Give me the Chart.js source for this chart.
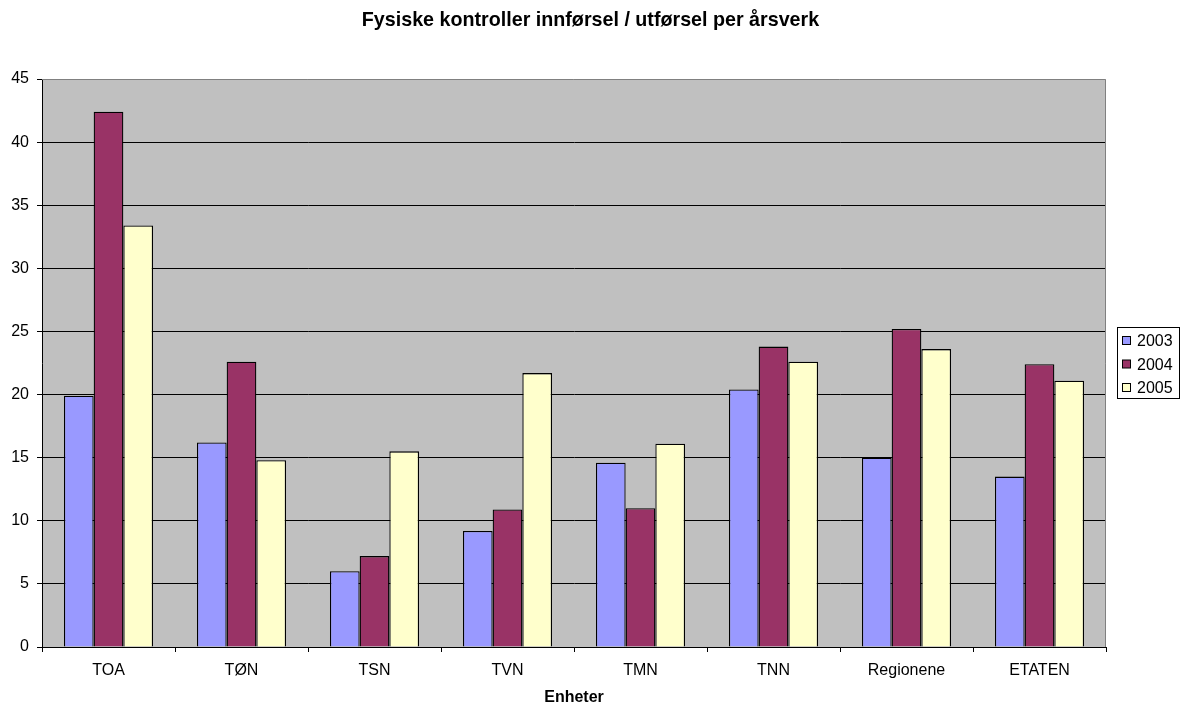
<!DOCTYPE html>
<html>
<head>
<meta charset="utf-8">
<script src="https://cdn.jsdelivr.net/npm/chart.js@4"></script>
<style>
  html, body { margin: 0; padding: 0; background: #fff; }
  #wrap { width: 1181px; height: 706px; }
</style>
</head>
<body>
<div id="wrap"><canvas id="chart" width="1181" height="706"></canvas></div>
<script>
const FONT = "'Liberation Sans', Arial, sans-serif";

const units = ["TOA", "TØN", "TSN", "TVN", "TMN", "TNN", "Regionene", "ETATEN"];
const years = ["2003", "2004", "2005"];
const v2003 = [19.9, 16.2, 6.0, 9.2, 14.6, 20.4, 15.0, 13.5];
const v2004 = [42.4, 22.6, 7.2, 10.9, 11.0, 23.8, 25.2, 22.4];
const v2005 = [33.4, 14.8, 15.5, 21.7, 16.1, 22.6, 23.6, 21.1];
const yTicks = [0, 5, 10, 15, 20, 25, 30, 35, 40, 45];
const chartTitle = "Fysiske kontroller innførsel / utførsel per årsverk";

const fills = ["#9999FF", "#993366", "#FFFFCC"];

// grey plot background plus the thin grey frame on top/right
const plotBg = {
  id: "plotBg",
  beforeDraw(chart) {
    const { ctx, chartArea: a } = chart;
    ctx.save();
    ctx.fillStyle = "#C0C0C0";
    ctx.fillRect(a.left, a.top, a.right - a.left, a.bottom - a.top);
    ctx.restore();
  },
  afterDatasetsDraw(chart) {
    const { ctx, chartArea: a } = chart;
    ctx.save();
    ctx.strokeStyle = "#808080";
    ctx.lineWidth = 1;
    ctx.beginPath();
    ctx.moveTo(a.left, a.top + 0.5);
    ctx.lineTo(a.right - 0.5, a.top + 0.5);
    ctx.lineTo(a.right - 0.5, a.bottom);
    ctx.stroke();
    ctx.restore();
  },
};

// title centred on the whole canvas, boxed legend at the right
const decor = {
  id: "decor",
  afterDraw(chart) {
    const { ctx, width } = chart;
    ctx.save();
    ctx.fillStyle = "#000";
    ctx.font = "bold 19.7px " + FONT;
    ctx.textAlign = "center";
    ctx.textBaseline = "middle";
    ctx.fillText(chartTitle, width / 2, 21);

    const x = 1117, y = 327, w = 62, h = 71;
    ctx.fillStyle = "#fff";
    ctx.fillRect(x, y, w, h);
    ctx.strokeStyle = "#000";
    ctx.lineWidth = 1;
    ctx.strokeRect(x + 0.5, y + 0.5, w, h);
    ctx.font = "16px " + FONT;
    ctx.textAlign = "left";
    chart.data.datasets.forEach((ds, i) => {
      const cy = y + 14 + i * 23.5;
      ctx.fillStyle = ds.backgroundColor;
      ctx.fillRect(x + 5.5, cy - 4.5, 8, 8);
      ctx.strokeStyle = "#000";
      ctx.strokeRect(x + 5.5, cy - 4.5, 8, 8);
      ctx.fillStyle = "#000";
      ctx.fillText(ds.label, x + 20, cy + 1);
    });
    ctx.restore();
  },
};

const datasets = [v2003, v2004, v2005].map((vals, i) => ({
  label: years[i],
  data: vals,
  backgroundColor: fills[i],
  borderColor: "#000",
  borderWidth: 1.3,
  borderSkipped: "bottom",
  categoryPercentage: 0.67,
  barPercentage: 1.0,
}));

new Chart(document.getElementById("chart"), {
  type: "bar",
  data: { labels: units, datasets },
  options: {
    responsive: false,
    animation: false,
    layout: { padding: { left: 0, right: 75, top: 79, bottom: 0 } },
    plugins: {
      legend: { display: false },
      tooltip: { enabled: false },
      title: { display: false },
    },
    scales: {
      x: {
        grid: { display: true, drawOnChartArea: false, drawTicks: true, tickLength: 5, color: "#000", offset: true },
        border: { color: "#000", width: 1 },
        ticks: { color: "#000", font: { family: FONT, size: 16 }, padding: 9, maxRotation: 0 },
        title: { display: true, text: "Enheter", color: "#000", font: { family: FONT, size: 16, weight: "bold", lineHeight: 1 }, padding: { top: 4, bottom: 0 } },
        afterFit(s) { s.height = 59; },
      },
      y: {
        min: 0,
        max: 45,
        afterBuildTicks(s) { s.ticks = yTicks.map((v) => ({ value: v })); },
        grid: {
          color: (c) => (c.tick && c.tick.value === 45 ? "rgba(0,0,0,0)" : "#000"),
          tickColor: "#000",
          tickLength: 5,
        },
        border: { color: "#000", width: 1 },
        ticks: { color: "#000", font: { family: FONT, size: 16 }, padding: 8 },
        afterFit(s) { s.width = 42; },
      },
    },
  },
  plugins: [plotBg, decor],
});
</script>
</body>
</html>
